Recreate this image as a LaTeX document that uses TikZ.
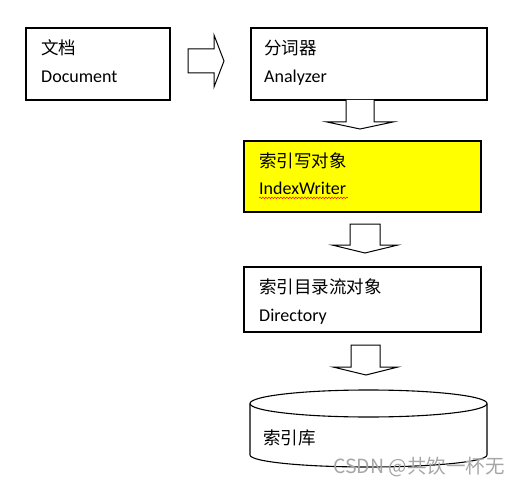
\documentclass[tikz,border=0pt]{standalone}
\usepackage{fontspec}
\setmainfont{Carlito}
\newfontfamily\cjk{Noto Sans CJK SC}
\usetikzlibrary{decorations.pathmorphing}
\definecolor{boxyellow}{RGB}{255,255,0}
\begin{document}
\begin{tikzpicture}[x=1pt,y=-1pt,
  box/.style={draw=black,line width=1.1pt},
  blockarrow/.style={draw=black,line width=1pt,fill=white,line join=miter},
  lbl/.style={anchor=base west,inner sep=0pt,font=\fontsize{18}{20}\selectfont},
  clbl/.style={anchor=base west,inner sep=0pt,font=\cjk\fontsize{17.5}{20}\selectfont}]
\useasboundingbox (0,0) rectangle (520,487);
% boxes
\draw[box] (26,28) rectangle (170,100);
\node[clbl] (t1) at (41,55) {文档};
\node[lbl] (t2) at (41,83) {Document};
\draw[box] (251,28) rectangle (487,100);
\node[clbl] (t3) at (264,55) {分词器};
\node[lbl] (t4) at (264,83) {Analyzer};
\draw[box,fill=boxyellow] (244,141) rectangle (481,212);
\node[clbl] (t5) at (259,167) {索引写对象};
\node[lbl] (t6) at (259,194) {IndexWriter};
\draw[red,line width=0.5pt,decorate,decoration={snake,amplitude=0.8pt,segment length=3pt}] (t6.south west) ++(0,3.5) -- ++(89,0);
\draw[box] (244,267) rectangle (481,332);
\node[clbl] (t7) at (259,293) {索引目录流对象};
\node[lbl] (t8) at (259,321) {Directory};
% arrows
\draw[blockarrow] (188,49) -- (214,49) -- (214,35) -- (224,61) -- (214,87) -- (214,73) -- (188,73) -- cycle;
\draw[blockarrow] (346,100) -- (346,122) -- (327,122) -- (360,129) -- (393,122) -- (374,122) -- (374,100);
\draw[blockarrow] (350,224) -- (350,245) -- (332,245) -- (365,253) -- (398,245) -- (380,245) -- (380,224) -- cycle;
\draw[blockarrow] (351,345) -- (351,367) -- (333,367) -- (366,375) -- (398,367) -- (380,367) -- (380,345) -- cycle;
% cylinder
\draw[box] (250,403.5) -- (250,455) arc[start angle=180,end angle=0,x radius=118.5,y radius=12] -- (487,403.5);
\draw[box] (368.5,403.5) ellipse [x radius=118.5,y radius=13.5];
\node[clbl] (t9) at (263,444) {索引库};
% watermark
\node[anchor=base west,inner sep=0pt,text=gray!70,font=\cjk\fontsize{19.5}{21}\selectfont] (wm) at (333,473) {CSDN @共饮一杯无};
\end{tikzpicture}
\end{document}
